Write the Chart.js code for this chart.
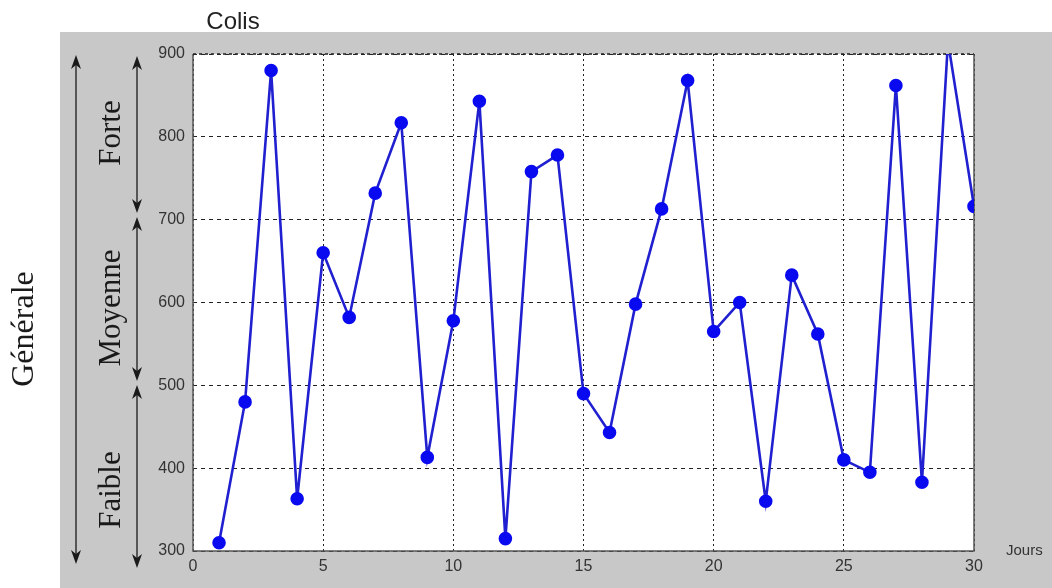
<!DOCTYPE html>
<html><head><meta charset="utf-8">
<script src="https://cdn.jsdelivr.net/npm/chart.js@4/dist/chart.umd.min.js"></script>
<style>html,body{margin:0;padding:0;background:#fff;overflow:hidden}</style>
</head><body>
<canvas id="c" width="1052" height="588" style="display:block;width:1052px;height:588px"></canvas>
<script>
// ---- data ----
const jours = [1,2,3,4,5,6,7,8,9,10,11,12,13,14,15,16,17,18,19,20,21,22,23,24,25,26,27,28,29,30];
const colis = [310,480,880,363,660,582,732,817,413,578,843,315,758,778,490,443,598,713,868,565,600,360,633,562,410,395,862,383,915,716];
const xTicks = [0,5,10,15,20,25,30];
const yTicks = [300,400,500,600,700,800,900];
const titleText = 'Colis';
const xAxisText = 'Jours';
const overallText = 'Générale';
const levelNames = ['Forte','Moyenne','Faible'];

const panel = {
  id: 'panel',
  beforeDraw(chart) {
    const ctx = chart.ctx, a = chart.chartArea;
    ctx.save();
    ctx.fillStyle = '#ffffff';
    ctx.fillRect(0, 0, chart.width, chart.height);
    ctx.fillStyle = '#c8c8c8';
    ctx.fillRect(60, 32, chart.width - 60, chart.height - 32);
    ctx.fillStyle = '#ffffff';
    ctx.fillRect(a.left, a.top, a.right - a.left, a.bottom - a.top);

    // title
    ctx.fillStyle = '#222';
    ctx.font = '24px "Liberation Sans", Arial, sans-serif';
    ctx.textAlign = 'center'; ctx.textBaseline = 'alphabetic';
    ctx.fillText(titleText, 233, 29);
    // x axis label
    ctx.fillStyle = '#333';
    ctx.font = '15px "Liberation Sans", Arial, sans-serif';
    ctx.textAlign = 'left';
    ctx.fillText(xAxisText, 1006, 555);

    // arrows
    function arrow(x, y1, y2) {
      ctx.strokeStyle = '#3a3a3a'; ctx.lineWidth = 1.6;
      ctx.beginPath(); ctx.moveTo(x, y1 + 6); ctx.lineTo(x, y2 - 6); ctx.stroke();
      ctx.fillStyle = '#1a1a1a';
      ctx.beginPath(); ctx.moveTo(x, y1); ctx.lineTo(x - 5, y1 + 14); ctx.lineTo(x, y1 + 10); ctx.lineTo(x + 5, y1 + 14); ctx.closePath(); ctx.fill();
      ctx.beginPath(); ctx.moveTo(x, y2); ctx.lineTo(x - 5, y2 - 14); ctx.lineTo(x, y2 - 10); ctx.lineTo(x + 5, y2 - 14); ctx.closePath(); ctx.fill();
    }
    arrow(76, 55, 564);
    arrow(137, 56, 213);
    arrow(137, 217, 381);
    arrow(137, 385, 568);

    function vtext(t, x, y, size) {
      ctx.save();
      ctx.translate(x, y); ctx.rotate(-Math.PI / 2);
      ctx.fillStyle = '#1a1a1a';
      ctx.font = size + 'px "Liberation Serif", "Times New Roman", serif';
      ctx.textAlign = 'center'; ctx.textBaseline = 'alphabetic';
      ctx.fillText(t, 0, 0);
      ctx.restore();
    }
    vtext(overallText, 33, 329, 32);
    vtext(levelNames[0], 120, 133, 31);
    vtext(levelNames[1], 120, 308, 31);
    vtext(levelNames[2], 120, 490, 31);
    ctx.restore();
  },
  beforeDatasetsDraw(chart) {
    const ctx = chart.ctx, a = chart.chartArea;
    ctx.save();
    ctx.strokeStyle = '#555';
    ctx.lineWidth = 1.5;
    ctx.beginPath();
    ctx.moveTo(a.left, a.top); ctx.lineTo(a.left, a.bottom); ctx.lineTo(a.right, a.bottom); ctx.lineTo(a.right, a.top);
    ctx.stroke();
    ctx.strokeStyle = '#222';
    ctx.setLineDash([3, 3]);
    ctx.beginPath(); ctx.moveTo(a.left, a.top); ctx.lineTo(a.right, a.top); ctx.stroke();
    ctx.restore();
  }
};

new Chart(document.getElementById('c'), {
  type: 'line',
  data: {
    datasets: [{
      data: jours.map((d, i) => ({ x: d, y: colis[i] })),
      borderColor: '#2020d0',
      backgroundColor: '#0a0af0',
      pointBackgroundColor: '#0a0af0',
      pointBorderColor: '#0a0af0',
      borderWidth: 2.6,
      pointRadius: 5.5,
      tension: 0,
      clip: 0
    }]
  },
  options: {
    responsive: false,
    animation: false,
    devicePixelRatio: 1,
    layout: { padding: { top: 54, right: 78, bottom: 0, left: 0 } },
    plugins: { legend: { display: false }, tooltip: { enabled: false } },
    scales: {
      x: {
        type: 'linear', min: 0, max: 30,
        afterBuildTicks: s => { s.ticks = xTicks.map(v => ({ value: v })); },
        afterFit: s => { s.height = 37; },
        grid: { color: '#222', lineWidth: 1, drawTicks: false },
        border: { display: false, dash: [2, 3] },
        ticks: { padding: 6, color: '#333', font: { size: 16, family: '"Liberation Sans", Arial, sans-serif' }, maxRotation: 0 }
      },
      y: {
        type: 'linear', min: 300, max: 900,
        afterBuildTicks: s => { s.ticks = yTicks.map(v => ({ value: v })); },
        afterFit: s => { s.width = 193; },
        grid: { color: '#222', lineWidth: 1, drawTicks: false },
        border: { display: false, dash: [4, 4] },
        ticks: { padding: 8, color: '#333', font: { size: 16, family: '"Liberation Sans", Arial, sans-serif' } }
      }
    }
  },
  plugins: [panel]
});
</script>
</body></html>
